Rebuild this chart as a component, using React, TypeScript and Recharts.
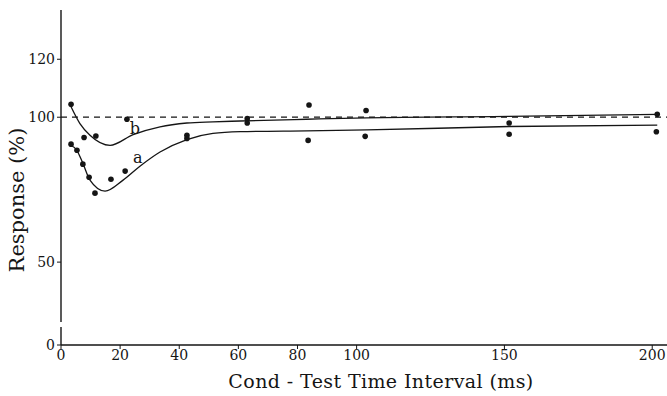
import { ComposedChart, Line, Scatter, XAxis, YAxis, ReferenceLine, ReferenceDot } from 'recharts';

const FONT = '"DejaVu Serif", "Liberation Serif", serif';
const INK = '#151515';

const xTicks = [0, 20, 40, 60, 80, 100, 150, 200];
const yTicks = [0, 50, 100, 120];
// the y axis is broken below 50, the "0" label sits at this value
const Y_BREAK = 21.4;

// fitted curve a (lower)
const curveA = [
  { x: 3.0, y: 90.5 },
  { x: 5.4, y: 88.5 },
  { x: 7.4, y: 84.1 },
  { x: 9.8, y: 78.3 },
  { x: 14.9, y: 74.5 },
  { x: 21, y: 78.3 },
  { x: 26.7, y: 83.1 },
  { x: 33.5, y: 88 },
  { x: 42.6, y: 92.3 },
  { x: 51.4, y: 94.4 },
  { x: 60.6, y: 95 },
  { x: 83, y: 95.3 },
  { x: 103.5, y: 95.6 },
  { x: 151.6, y: 96.8 },
  { x: 201.7, y: 97.3 },
];

// fitted curve b (upper)
const curveB = [
  { x: 3.4, y: 103.6 },
  { x: 6.4, y: 97.8 },
  { x: 9.8, y: 93.8 },
  { x: 16.6, y: 90.3 },
  { x: 24.4, y: 94 },
  { x: 33.5, y: 96.7 },
  { x: 42.6, y: 98 },
  { x: 51.4, y: 98.4 },
  { x: 60.6, y: 98.7 },
  { x: 83, y: 99.3 },
  { x: 103.5, y: 99.8 },
  { x: 151.6, y: 100.3 },
  { x: 201.7, y: 101 },
];

// measured responses
const points = [
  { x: 3.4, y: 104.5 },
  { x: 7.8, y: 93 },
  { x: 11.8, y: 93.5 },
  { x: 22.3, y: 99.3 },
  { x: 3.4, y: 90.7 },
  { x: 5.4, y: 88.6 },
  { x: 7.4, y: 83.8 },
  { x: 9.5, y: 79.3 },
  { x: 11.5, y: 73.8 },
  { x: 16.9, y: 78.6 },
  { x: 21.7, y: 81.4 },
  { x: 42.6, y: 93.8 },
  { x: 42.6, y: 92.7 },
  { x: 63, y: 99.5 },
  { x: 63, y: 98 },
  { x: 83.9, y: 104.2 },
  { x: 83.6, y: 92 },
  { x: 103.2, y: 102.3 },
  { x: 102.9, y: 93.4 },
  { x: 151.6, y: 98 },
  { x: 151.6, y: 94.1 },
  { x: 201.7, y: 101 },
  { x: 201.4, y: 95 },
];

const curveLabels = [
  { name: 'b', x: 25, y: 96.2 },
  { name: 'a', x: 26, y: 86.2 },
];

const yTickPos = yTicks.map((v) => (v === 0 ? Y_BREAK : v));

const Dot = (props: any) => <circle cx={props.cx} cy={props.cy} r={2.8} fill={INK} />;

export default function App() {
  return (
    <div style={{ position: 'absolute', left: 0, top: 0, width: 667, height: 396, background: '#fff' }}>
      <ComposedChart
        width={667}
        height={396}
        margin={{ top: 10, right: 0, bottom: 0, left: 0 }}
        style={{ fontFamily: FONT }}
      >
        <XAxis
          type="number"
          dataKey="x"
          domain={[0, 205]}
          ticks={xTicks}
          height={51}
          tickSize={4}
          tickMargin={1}
          axisLine={{ stroke: INK, strokeWidth: 1.4 }}
          tickLine={{ stroke: INK }}
          tick={{ fill: INK, fontSize: 14, fontFamily: FONT }}
          label={{
            content: () => (
              <text
                x={381}
                y={388}
                textAnchor="middle"
                fontSize={19}
                letterSpacing={0.4}
                fontFamily={FONT}
                fill={INK}
              >
                Cond - Test Time Interval (ms)
              </text>
            ),
          }}
        />
        <YAxis
          type="number"
          dataKey="y"
          domain={[Y_BREAK, 137]}
          ticks={yTickPos}
          allowDataOverflow
          width={61}
          tickSize={4}
          tickMargin={2}
          tickFormatter={(v: number) => (v === Y_BREAK ? '0' : String(v))}
          axisLine={{ stroke: INK, strokeWidth: 1.4 }}
          tickLine={{ stroke: INK }}
          tick={{ fill: INK, fontSize: 14, fontFamily: FONT }}
          label={{
            content: () => (
              <text
                x={17}
                y={200}
                transform="rotate(-90 17 200)"
                textAnchor="middle"
                dominantBaseline="central"
                fontSize={21}
                fontFamily={FONT}
                fill={INK}
              >
                Response (%)
              </text>
            ),
          }}
        />
        <ReferenceLine y={100} stroke={INK} strokeWidth={1.2} strokeDasharray="6 5" />
        <Line
          data={curveA}
          dataKey="y"
          type="monotone"
          stroke={INK}
          strokeWidth={1.3}
          dot={false}
          isAnimationActive={false}
        />
        <Line
          data={curveB}
          dataKey="y"
          type="monotone"
          stroke={INK}
          strokeWidth={1.3}
          dot={false}
          isAnimationActive={false}
        />
        <Scatter data={points} shape={Dot} isAnimationActive={false} />
        {curveLabels.map((l) => (
          <ReferenceDot
            key={l.name}
            x={l.x}
            y={l.y}
            r={0}
            fill="none"
            stroke="none"
            label={{ value: l.name, position: 'center', fontSize: 16, fontFamily: FONT, fill: INK }}
          />
        ))}
      </ComposedChart>
      {/* axis break near the bottom of the y axis */}
      <div style={{ position: 'absolute', left: 57, top: 322, width: 8, height: 5, background: '#fff' }} />
    </div>
  );
}
